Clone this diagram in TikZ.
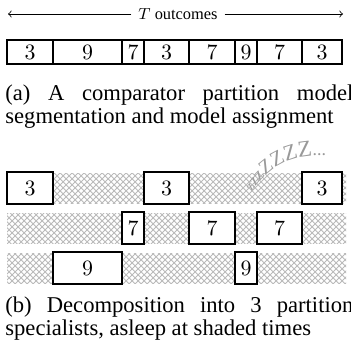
\documentclass[tikz,border=0pt]{standalone}
\usepackage{fontspec}
\setmainfont{Liberation Serif}
\usetikzlibrary{patterns,decorations.text}
\tolerance=10000
\hyphenpenalty=10000
\exhyphenpenalty=10000

\newcommand\zzA{\fontsize{7}{8}\selectfont}
\newcommand\zzB{\fontsize{8}{9}\selectfont}
\newcommand\zzC{\fontsize{9}{10}\selectfont}
\newcommand\zzD{\fontsize{10}{11}\selectfont}
\newcommand\zzE{\fontsize{10.5}{11}\selectfont}
\newcommand\zzF{\fontsize{11}{12}\selectfont}
\newcommand\zzH{\fontsize{11.5}{12}\selectfont}
\newcommand\zzG{\fontsize{9}{10}\selectfont}

\tikzset{
  segbox/.style={draw, line width=0.8pt, fill=white},
  sleepband/.style={pattern=crosshatch, pattern color=gray!55},
  digit/.style={inner sep=0pt, font=\fontsize{11.3}{13}\selectfont},
  capt/.style={anchor=north west, inner sep=0pt, text width=174pt, align=justify,
    font=\fontsize{11.3}{11.8}\selectfont},
}

\begin{document}
\begin{tikzpicture}[x=0.5pt,y=0.5pt]
  \useasboundingbox (0,0) rectangle (351,-347);
  % time axis
  \node (tlab) at (178,-14) {\fontsize{8.2}{9}\selectfont $T$ outcomes};
  \coordinate (tl) at (8,-14);
  \coordinate (tr) at (343,-14);
  \draw[->] (tlab) -- (tl);
  \draw[->] (tlab) -- (tr);
  % (a) segmentation
  \draw[segbox] (7,-40) rectangle (53,-64);
  \draw[segbox] (53,-40) rectangle (122,-64);
  \draw[segbox] (122,-40) rectangle (144,-64);
  \draw[segbox] (144,-40) rectangle (189,-64);
  \draw[segbox] (189,-40) rectangle (235,-64);
  \draw[segbox] (235,-40) rectangle (257,-64);
  \draw[segbox] (257,-40) rectangle (302,-64);
  \draw[segbox] (302,-40) rectangle (342,-64);
  \node[digit] (sa) at (30,-52) {$3$};
  \node[digit] (sb) at (87.5,-52) {$9$};
  \node[digit] (sc) at (133,-52) {$7$};
  \node[digit] (sd) at (166.5,-52) {$3$};
  \node[digit] (se) at (212,-52) {$7$};
  \node[digit] (sf) at (246,-52) {$9$};
  \node[digit] (sg) at (279.5,-52) {$7$};
  \node[digit] (sh) at (322,-52) {$3$};
  \node[capt] (capa) at (5,-84) {(a) A comparator partition model segmentation and model assignment};
  % (b) specialists
  \path[sleepband] (7,-173) rectangle (346,-203);
  \path[sleepband] (7,-213) rectangle (346,-243);
  \path[sleepband] (7,-253) rectangle (346,-283);
  \draw[segbox] (7,-172) rectangle (53,-204);
  \draw[segbox] (144,-172) rectangle (189,-204);
  \draw[segbox] (302,-172) rectangle (342,-204);
  \draw[segbox] (122,-212) rectangle (144,-244);
  \draw[segbox] (189,-212) rectangle (235,-244);
  \draw[segbox] (257,-212) rectangle (302,-244);
  \draw[segbox] (53,-252) rectangle (122,-284);
  \draw[segbox] (235,-252) rectangle (257,-284);
  \node[digit] (pa) at (30,-188) {$3$};
  \node[digit] (pb) at (166.5,-188) {$3$};
  \node[digit] (pc) at (322,-188) {$3$};
  \node[digit] (qa) at (133,-228) {$7$};
  \node[digit] (qb) at (212,-228) {$7$};
  \node[digit] (qc) at (279.5,-228) {$7$};
  \node[digit] (ra) at (87.5,-268) {$9$};
  \node[digit] (rb) at (246,-268) {$9$};
  \path[decorate, decoration={text along path, text color=gray!80,
      text={|\zzA|z|\zzB|z|\zzC|z|\zzD|Z|\zzE|Z|\zzF|Z|\zzH|Z|\zzG|...}}]
    (252,-192) .. controls (264,-172) and (283,-158) .. (310,-156) -- (350,-155);
  \node[capt] (capb) at (5,-296) {(b) Decomposition into 3 partition specialists, asleep at shaded times};
\end{tikzpicture}
\end{document}
